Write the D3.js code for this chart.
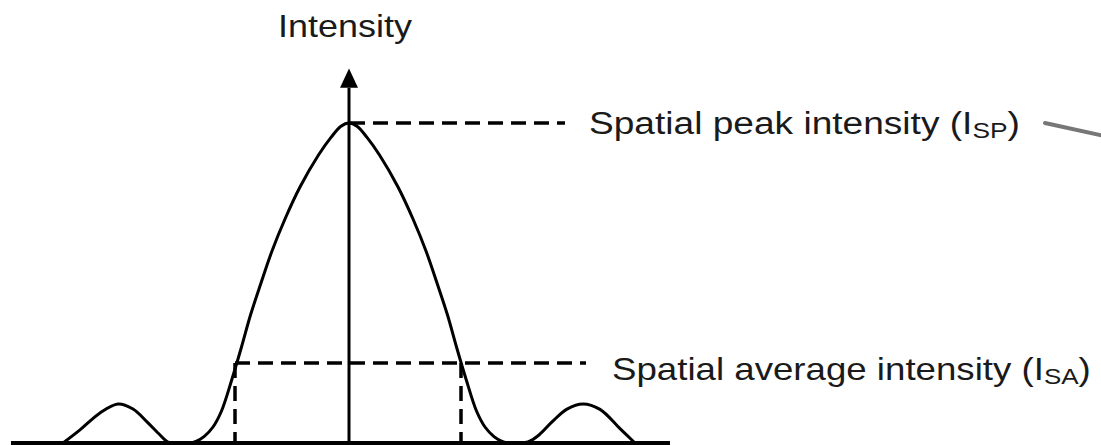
<!DOCTYPE html>
<html>
<head>
<meta charset="utf-8">
<script src="https://cdn.jsdelivr.net/npm/d3@7"></script>
<style>
  html, body { margin: 0; padding: 0; background: #fff; }
  svg { display: block; }
  text { font-family: "Liberation Sans", Arial, Helvetica, sans-serif; fill: #1a1a1a; }
</style>
</head>
<body>
<svg id="chart" width="1101" height="445"></svg>
<script>
// Beam profile: lateral position (arbitrary units) vs normalised intensity
const position = [
  -2.86, -2.69, -2.49, -2.31, -2.16, -2.02, -1.89, -1.81, -1.70,
  -1.60, -1.53, -1.45, -1.36, -1.275, -1.17, -1.075, -0.985, -0.88, -0.77,
  -0.64, -0.49, -0.305, -0.18, -0.08, 0.00, 0.08, 0.18, 0.305, 0.49,
  0.64, 0.77, 0.88, 0.985, 1.075, 1.17, 1.275, 1.36, 1.45, 1.53, 1.60,
  1.70, 1.79, 1.90, 2.03, 2.18, 2.34, 2.51, 2.71, 2.86
];
const intensity = [
  0.000, 0.041, 0.094, 0.122, 0.106, 0.066, 0.025, 0.003, 0.000,
  0.000, 0.005, 0.020, 0.050, 0.100, 0.200, 0.300, 0.400, 0.500, 0.600,
  0.700, 0.800, 0.900, 0.955, 0.990, 1.000, 0.990, 0.955, 0.900, 0.800,
  0.700, 0.600, 0.500, 0.400, 0.300, 0.200, 0.100, 0.050, 0.020, 0.005, 0.000,
  0.000, 0.003, 0.025, 0.066, 0.106, 0.122, 0.105, 0.045, 0.000
];

// Reference levels
const peakLevel = 1.0;      // I_SP
const averageLevel = 0.25;  // I_SA
const averageBounds = [-1.14, 1.12];

// Labels
const axisTitle = "Intensity";
const peakLabel = { main: "Spatial peak intensity (I", sub: "SP", end: ")" };
const averageLabel = { main: "Spatial average intensity (I", sub: "SA", end: ")" };

const svg = d3.select("#chart");

const x = d3.scaleLinear().domain([-3.38, 3.21]).range([11, 670]);
const y = d3.scaleLinear().domain([0, 1]).range([443, 123]);

const data = position.map((p, i) => ({ p, v: intensity[i] }));

// Baseline (horizontal axis)
svg.append("line")
  .attr("x1", x(-3.38)).attr("x2", x(3.21))
  .attr("y1", y(0)).attr("y2", y(0))
  .attr("stroke", "#000").attr("stroke-width", 4);

// Vertical intensity axis with arrow
svg.append("line")
  .attr("x1", x(0)).attr("x2", x(0))
  .attr("y1", y(0)).attr("y2", y(1.11))
  .attr("stroke", "#000").attr("stroke-width", 3);
svg.append("path")
  .attr("d", d3.line()([[x(0) - 9, y(1.11)], [x(0), y(1.17)], [x(0) + 9, y(1.11)]]) + "Z")
  .attr("fill", "#000");

const dash = "15,8";

// Spatial peak level
svg.append("line")
  .attr("x1", x(0.01)).attr("x2", x(2.16))
  .attr("y1", y(peakLevel)).attr("y2", y(peakLevel))
  .attr("stroke", "#000").attr("stroke-width", 3.5)
  .attr("stroke-dasharray", dash);

// Spatial average level and its bounds
svg.append("line")
  .attr("x1", x(averageBounds[0])).attr("x2", x(2.37))
  .attr("y1", y(averageLevel)).attr("y2", y(averageLevel))
  .attr("stroke", "#000").attr("stroke-width", 3.5)
  .attr("stroke-dasharray", dash);
svg.selectAll(".bound")
  .data(averageBounds)
  .join("line")
  .attr("class", "bound")
  .attr("x1", d => x(d)).attr("x2", d => x(d))
  .attr("y1", y(averageLevel)).attr("y2", y(0))
  .attr("stroke", "#000").attr("stroke-width", 3.5)
  .attr("stroke-dasharray", dash);

// Intensity profile
svg.append("path")
  .datum(data)
  .attr("d", d3.line().x(d => x(d.p)).y(d => y(Math.max(0, d.v))).curve(d3.curveCatmullRom.alpha(0.5)))
  .attr("fill", "none")
  .attr("stroke", "#000")
  .attr("stroke-width", 3)
  .attr("stroke-linejoin", "round");

// Leader line continuing from the peak label
svg.append("line")
  .attr("x1", x(6.96)).attr("y1", y(1.0))
  .attr("x2", x(7.62)).attr("y2", y(0.955))
  .attr("stroke", "#777").attr("stroke-width", 4)
  .attr("stroke-linecap", "round");

// Stretch a label horizontally so it spans the given width
function fitLabel(sel, left, width) {
  const bb = sel.node().getBBox();
  const sx = width / bb.width;
  sel.attr("transform", `translate(${left},0) scale(${sx},1) translate(${-bb.x},0)`);
}

function subLabel(lbl, left, baseline, width) {
  const t = svg.append("text")
    .attr("x", 0).attr("y", baseline)
    .attr("font-size", 31);
  t.append("tspan").text(lbl.main);
  t.append("tspan").attr("font-size", 22).attr("dy", 4).text(lbl.sub);
  t.append("tspan").attr("dy", -4).text(lbl.end);
  fitLabel(t, left, width);
}

subLabel(peakLabel, x(2.40), 134, 431);
subLabel(averageLabel, x(2.63), 380, 479);

const title = svg.append("text")
  .attr("x", 0).attr("y", 37)
  .attr("font-size", 32)
  .text(axisTitle);
fitLabel(title, x(0) - 71, 134);
</script>
</body>
</html>
